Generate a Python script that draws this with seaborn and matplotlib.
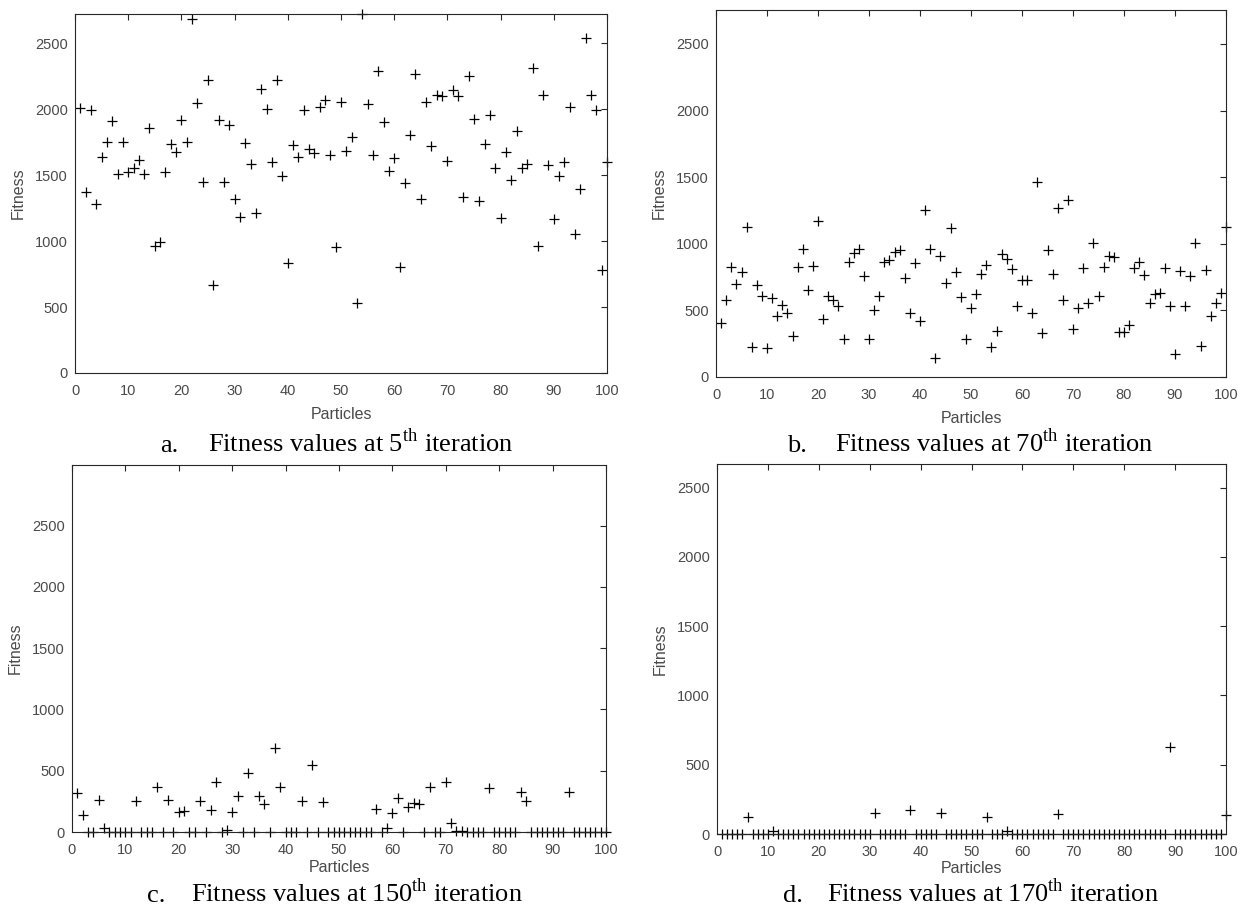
import matplotlib
matplotlib.use("Agg")
import matplotlib.pyplot as plt
import seaborn as sns
import pandas as pd

particles = list(range(1, 101))

fitness_iter5 = [2010, 1375, 1995, 1280, 1640, 1750, 1910, 1505, 1750, 1520,
                 1555, 1615, 1510, 1855, 965, 995, 1520, 1735, 1675, 1915,
                 1750, 2685, 2045, 1445, 2220, 665, 1915, 1450, 1880, 1315,
                 1180, 1745, 1585, 1210, 2155, 2000, 1595, 2220, 1495, 830,
                 1725, 1635, 1995, 1700, 1670, 2015, 2070, 1655, 955, 2050,
                 1680, 1785, 530, 2720, 2040, 1655, 2290, 1900, 1530, 1630,
                 800, 1440, 1805, 2265, 1320, 2050, 1720, 2110, 2100, 1605,
                 2145, 2095, 1330, 2250, 1925, 1300, 1735, 1955, 1550, 1175,
                 1675, 1465, 1830, 1550, 1585, 2310, 960, 2110, 1575, 1165,
                 1495, 1595, 2015, 1050, 1395, 2535, 2105, 1995, 780, 1600]

fitness_iter70 = [405, 575, 825, 700, 790, 1125, 225, 690, 610, 220,
                  595, 460, 540, 480, 305, 825, 960, 655, 835, 1170,
                  435, 605, 575, 530, 285, 860, 930, 960, 755, 285,
                  505, 605, 860, 875, 935, 950, 745, 480, 855, 420,
                  1250, 960, 140, 905, 705, 1120, 785, 600, 285, 520,
                  625, 775, 840, 225, 345, 920, 885, 810, 535, 725,
                  725, 480, 1465, 330, 955, 770, 1270, 575, 1330, 357,
                  520, 815, 555, 1005, 605, 825, 905, 900, 340, 340,
                  390, 815, 860, 765, 555, 625, 630, 820, 530, 175,
                  795, 530, 755, 1005, 230, 805, 460, 555, 630, 1125]

fitness_iter150 = [320, 135, 0, 0, 260, 35, 0, 0, 0, 0,
                   0, 255, 0, 0, 0, 370, 0, 265, 0, 160,
                   170, 0, 0, 255, 0, 180, 410, 0, 15, 165,
                   295, 0, 480, 0, 290, 225, 0, 685, 365, 0,
                   0, 0, 255, 0, 545, 0, 245, 0, 0, 0,
                   0, 0, 0, 0, 0, 0, 190, 0, 30, 155,
                   280, 0, 200, 235, 225, 0, 365, 0, 0, 405,
                   70, 10, 5, 0, 0, 0, 0, 355, 0, 0,
                   0, 0, 0, 325, 255, 0, 0, 0, 0, 0,
                   0, 0, 325, 0, 0, 0, 0, 0, 0, 0]

fitness_iter170 = [0, 0, 0, 0, 0, 125, 0, 0, 0, 0,
                   25, 0, 0, 0, 0, 0, 0, 0, 0, 0,
                   0, 0, 0, 0, 0, 0, 0, 0, 0, 0,
                   155, 0, 0, 0, 0, 0, 0, 175, 0, 0,
                   0, 0, 0, 150, 0, 0, 0, 0, 0, 0,
                   0, 0, 125, 0, 0, 0, 25, 0, 0, 0,
                   0, 0, 0, 0, 0, 0, 145, 0, 0, 0,
                   0, 0, 0, 0, 0, 0, 0, 0, 0, 0,
                   0, 0, 0, 0, 0, 0, 0, 0, 630, 0,
                   0, 0, 0, 0, 0, 0, 0, 0, 0, 135]

panel_letters = ["a.", "b.", "c.", "d."]
iterations = ["5", "70", "150", "170"]
y_tops = [2720, 2755, 2995, 2670]
x_ticks = list(range(0, 101, 10))
y_ticks = [0, 500, 1000, 1500, 2000, 2500]

sns.set_theme(style="white")
plt.rcParams["font.family"] = ["Liberation Sans", "DejaVu Sans"]
plt.rcParams["mathtext.fontset"] = "custom"
plt.rcParams["mathtext.rm"] = "Liberation Serif"

W, H = 1247, 914
fig = plt.figure(figsize=(W / 100, H / 100), dpi=100)

# axes boxes in pixels: left, right, top, bottom
boxes = [(75, 607, 14, 373), (716, 1226, 10, 377),
         (72, 606, 465, 832), (717, 1226, 464, 834)]
# letter x, text x, baseline y (pixels)
caption_pos = [(160, 208, 452), (787, 835, 452), (147, 191, 902), (783, 827, 902)]
xlabel_pads = [6.5, 6.5, 2.0, 1.5]

series = [fitness_iter5, fitness_iter70, fitness_iter150, fitness_iter170]
grey = "#262626"
tick_grey = "#4a4a4a"

for i, (vals, box) in enumerate(zip(series, boxes)):
    l, r, t, b = box
    ax = fig.add_axes([l / W, 1 - b / H, (r - l) / W, (b - t) / H])
    df = pd.DataFrame({"Particles": particles, "Fitness": vals})
    sns.scatterplot(data=df, x="Particles", y="Fitness", marker="+", color="black",
                    s=60, linewidth=0.9, ax=ax, legend=False)
    for coll in ax.collections:
        coll.set_clip_on(False)
    ax.set_xlim(0, 100)
    ax.set_ylim(0, y_tops[i])
    ax.set_xticks(x_ticks)
    ax.set_yticks(y_ticks)
    ax.tick_params(direction="in", length=4, width=0.8, top=True, right=True,
                   labelsize=10.5, colors=grey, labelcolor=tick_grey)
    ax.tick_params(axis="x", pad=8)
    ax.tick_params(axis="y", pad=5)
    for sp in ax.spines.values():
        sp.set_visible(True)
        sp.set_color(grey)
        sp.set_linewidth(0.8)
    ax.set_xlabel("Particles", fontsize=11.5, color=tick_grey, labelpad=xlabel_pads[i])
    ax.set_ylabel("Fitness", fontsize=11.5, color=tick_grey, labelpad=7)

    lx, tx, by = caption_pos[i]
    fig.text(lx / W, 1 - by / H, panel_letters[i], family="Liberation Serif",
             fontsize=19, va="baseline", ha="left", color="black")
    fig.text(tx / W, 1 - by / H,
             "Fitness values at " + iterations[i] + r"$^{\mathrm{th}}$" + " iteration",
             family="Liberation Serif", fontsize=19, va="baseline", ha="left", color="black")

fig.savefig("out.png", dpi=100)
